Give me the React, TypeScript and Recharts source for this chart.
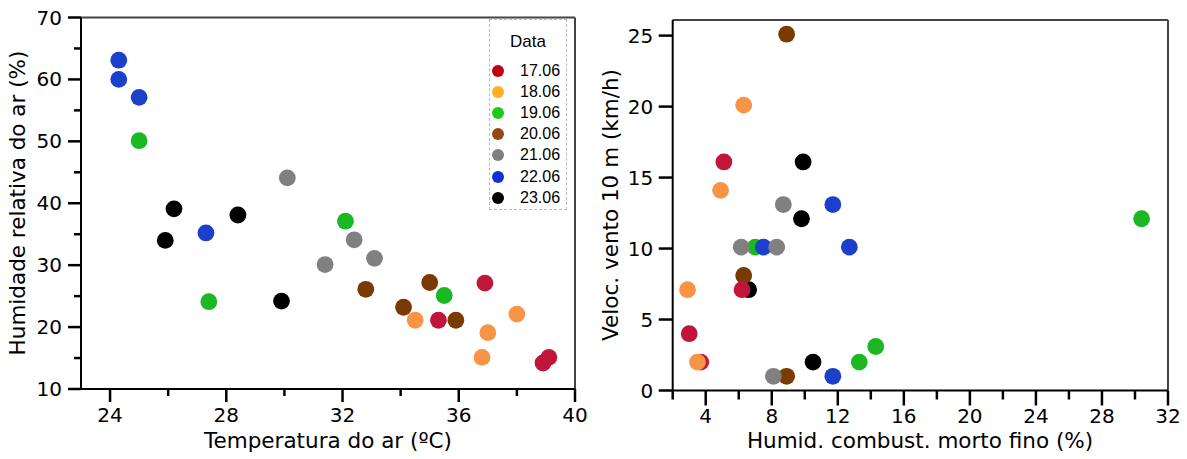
import React from 'react';
import { ScatterChart, Scatter, XAxis, YAxis, ReferenceLine } from 'recharts';

const dates = ['17.06', '18.06', '19.06', '20.06', '21.06', '22.06', '23.06'];
const pointColors = ['#C0163A', '#F89446', '#1BB824', '#7A3A02', '#808080', '#1A40CC', '#000000'];
const legendColors = ['#C00010', '#FFB020', '#1ACC1A', '#994710', '#808080', '#1030D8', '#000000'];

// Left chart: air temperature (x) vs relative humidity (y)
const temp17 = [36.9, 35.3, 39.1, 38.9];
const rh17 = [27.1, 21.1, 15.1, 14.2];
const temp18 = [34.5, 38.0, 37.0, 36.8];
const rh18 = [21.1, 22.1, 19.1, 15.1];
const temp19 = [25.0, 27.4, 32.1, 35.5];
const rh19 = [50.1, 24.1, 37.1, 25.1];
const temp20 = [32.8, 35.0, 34.1, 35.9];
const rh20 = [26.1, 27.2, 23.2, 21.1];
const temp21 = [30.1, 32.4, 33.1, 31.4];
const rh21 = [44.1, 34.1, 31.1, 30.1];
const temp22 = [24.3, 24.3, 25.0, 27.3];
const rh22 = [63.1, 60.0, 57.1, 35.2];
const temp23 = [26.2, 28.4, 25.9, 29.9];
const rh23 = [39.1, 38.1, 34.0, 24.2];

// Right chart: fine dead fuel moisture (x) vs wind speed (y)
const fmc17 = [5.1, 6.2, 3.0, 3.7];
const wind17 = [16.1, 7.1, 4.0, 2.0];
const fmc18 = [6.3, 4.9, 2.9, 3.5];
const wind18 = [20.1, 14.1, 7.1, 2.0];
const fmc19 = [7.0, 13.3, 14.3, 30.4];
const wind19 = [10.1, 2.0, 3.1, 12.1];
const fmc20 = [8.9, 6.3, 8.9];
const wind20 = [25.1, 8.1, 1.0];
const fmc21 = [8.7, 6.15, 8.3, 8.1];
const wind21 = [13.1, 10.1, 10.1, 1.0];
const fmc22 = [11.7, 7.5, 12.7, 11.7];
const wind22 = [13.1, 10.1, 10.1, 1.0];
const fmc23 = [9.9, 9.8, 6.6, 10.5];
const wind23 = [16.1, 12.1, 7.1, 2.0];

const tempTicks = [24, 26, 28, 30, 32, 34, 36, 38, 40];
const tempMajor = [24, 28, 32, 36, 40];
const rhTicks = [10, 15, 20, 25, 30, 35, 40, 45, 50, 55, 60, 65, 70];
const rhMajor = [10, 20, 30, 40, 50, 60, 70];
const fmcTicks = [2, 4, 6, 8, 10, 12, 14, 16, 18, 20, 22, 24, 26, 28, 30, 32];
const fmcMajor = [4, 8, 12, 16, 20, 24, 28, 32];
const windTicks = [0, 5, 10, 15, 20, 25];

const zip = (xs: number[], ys: number[]) => xs.map((x, i) => ({ x, y: ys[i] }));

const leftSeries = [
  zip(temp17, rh17), zip(temp18, rh18), zip(temp19, rh19), zip(temp20, rh20),
  zip(temp21, rh21), zip(temp22, rh22), zip(temp23, rh23),
];
const rightSeries = [
  zip(fmc17, wind17), zip(fmc18, wind18), zip(fmc19, wind19), zip(fmc20, wind20),
  zip(fmc21, wind21), zip(fmc22, wind22), zip(fmc23, wind23),
];
// draw order (index into dates)
const drawOrder = [6, 3, 2, 5, 4, 0, 1];

const FONT = '"DejaVu Sans", sans-serif';
const TICK_FS = 20;

const dot = (color: string) => (p: any) => (
  <circle cx={p.cx} cy={p.cy} r={8.4} fill={color} />
);

const makeXTick = (major: number[], majLen: number, minLen: number, labelDy: number) => (p: any) => {
  const { x, y, payload } = p;
  const isMajor = major.includes(payload.value);
  return (
    <g>
      <line x1={x} x2={x} y1={y} y2={y + (isMajor ? majLen : minLen)} stroke="#000" strokeWidth={2.5} />
      {isMajor && (
        <text x={x} y={y + labelDy} textAnchor="middle" fontFamily={FONT} fontSize={TICK_FS} fill="#000">
          {payload.value}
        </text>
      )}
    </g>
  );
};

const makeYTick = (major: number[], majLen: number, minLen: number, labelDx: number) => (p: any) => {
  const { x, y, payload } = p;
  const isMajor = major.includes(payload.value);
  return (
    <g>
      <line x1={x - (isMajor ? majLen : minLen)} x2={x} y1={y} y2={y} stroke="#000" strokeWidth={2.5} />
      {isMajor && (
        <text x={x - labelDx} y={y + 7} textAnchor="end" fontFamily={FONT} fontSize={TICK_FS} fill="#000">
          {payload.value}
        </text>
      )}
    </g>
  );
};

const LeftXTick = makeXTick(tempMajor, 13, 7, 33);
const LeftYTick = makeYTick(rhMajor, 13, 7, 19);
const RightXTick = makeXTick(fmcMajor, 15, 9, 32);
const RightYTick = makeYTick(windTicks, 14, 14, 19.5);

const axisLine = { stroke: '#000', strokeWidth: 2 };

export default function App() {
  return (
    <div style={{ position: 'absolute', left: 0, top: 0, width: 1187, height: 459, background: '#fff' }}>
      <div style={{ position: 'absolute', left: 0, top: 0 }}>
        <ScatterChart width={600} height={459} margin={{ top: 17.5, right: 25, bottom: 20, left: 21 }}>
          <XAxis
            type="number" dataKey="x" domain={[23, 40]} ticks={tempTicks} interval={0}
            height={50} tickSize={0} tickMargin={0} tickLine={false} axisLine={axisLine} tick={LeftXTick}
          />
          <YAxis
            type="number" dataKey="y" domain={[10, 70]} ticks={rhTicks} interval={0}
            width={60} tickSize={0} tickMargin={0} tickLine={false} axisLine={axisLine} tick={LeftYTick}
          />
          <ReferenceLine y={70} stroke="#444" strokeWidth={2} />
          <ReferenceLine x={40} stroke="#444" strokeWidth={2} />
          {drawOrder.map((i) => (
            <Scatter key={dates[i]} name={dates[i]} data={leftSeries[i]} fill={pointColors[i]}
              shape={dot(pointColors[i])} isAnimationActive={false} />
          ))}
        </ScatterChart>
      </div>
      <div style={{ position: 'absolute', left: 600, top: 0 }}>
        <ScatterChart width={587} height={459} margin={{ top: 20, right: 19, bottom: 18.5, left: 12.7 }}>
          <XAxis
            type="number" dataKey="x" domain={[2, 32]} ticks={fmcTicks} interval={0}
            height={50} tickSize={0} tickMargin={0} tickLine={false} axisLine={axisLine} tick={RightXTick}
          />
          <YAxis
            type="number" dataKey="y" domain={[0, 26.1]} ticks={windTicks} interval={0}
            width={60} tickSize={0} tickMargin={0} tickLine={false} axisLine={axisLine} tick={RightYTick}
          />
          <ReferenceLine y={26.1} stroke="#444" strokeWidth={2} />
          <ReferenceLine x={32} stroke="#444" strokeWidth={2} />
          {drawOrder.map((i) => (
            <Scatter key={dates[i]} name={dates[i]} data={rightSeries[i]} fill={pointColors[i]}
              shape={dot(pointColors[i])} isAnimationActive={false} />
          ))}
        </ScatterChart>
      </div>
      <svg width={1187} height={459} style={{ position: 'absolute', left: 0, top: 0, pointerEvents: 'none' }}>
        <text x={328} y={448} textAnchor="middle" fontFamily={FONT} fontSize={21.5} fill="#000">
          Temperatura do ar (ºC)
        </text>
        <text transform="translate(25,203) rotate(-90)" textAnchor="middle" fontFamily={FONT} fontSize={21.5} fill="#000">
          Humidade relativa do ar (%)
        </text>
        <text x={920} y={448} textAnchor="middle" fontFamily={FONT} fontSize={21.5} fill="#000">
          Humid. combust. morto fino (%)
        </text>
        <text transform="translate(618,205) rotate(-90)" textAnchor="middle" fontFamily={FONT} fontSize={21.5} fill="#000">
          Veloc. vento 10 m (km/h)
        </text>
      </svg>
      <div
        style={{
          position: 'absolute', left: 489, top: 19, width: 78, height: 191, boxSizing: 'border-box',
          border: '1.5px dashed #bbb', background: '#fff', fontFamily: '"Liberation Sans", Arial, sans-serif',
        }}
      >
        <div style={{ position: 'absolute', left: 0, width: '100%', top: 12, textAlign: 'center', fontSize: 17, lineHeight: '20px' }}>
          Data
        </div>
        {dates.map((d, i) => (
          <div key={d} style={{ position: 'absolute', left: 0, top: 41 + i * 21.1, height: 20, width: '100%' }}>
            <span style={{ position: 'absolute', left: 2, top: 4, width: 12, height: 12, borderRadius: 6, background: legendColors[i] }} />
            <span style={{ position: 'absolute', left: 30, top: 0, fontSize: 16, lineHeight: '20px' }}>{d}</span>
          </div>
        ))}
      </div>
    </div>
  );
}
